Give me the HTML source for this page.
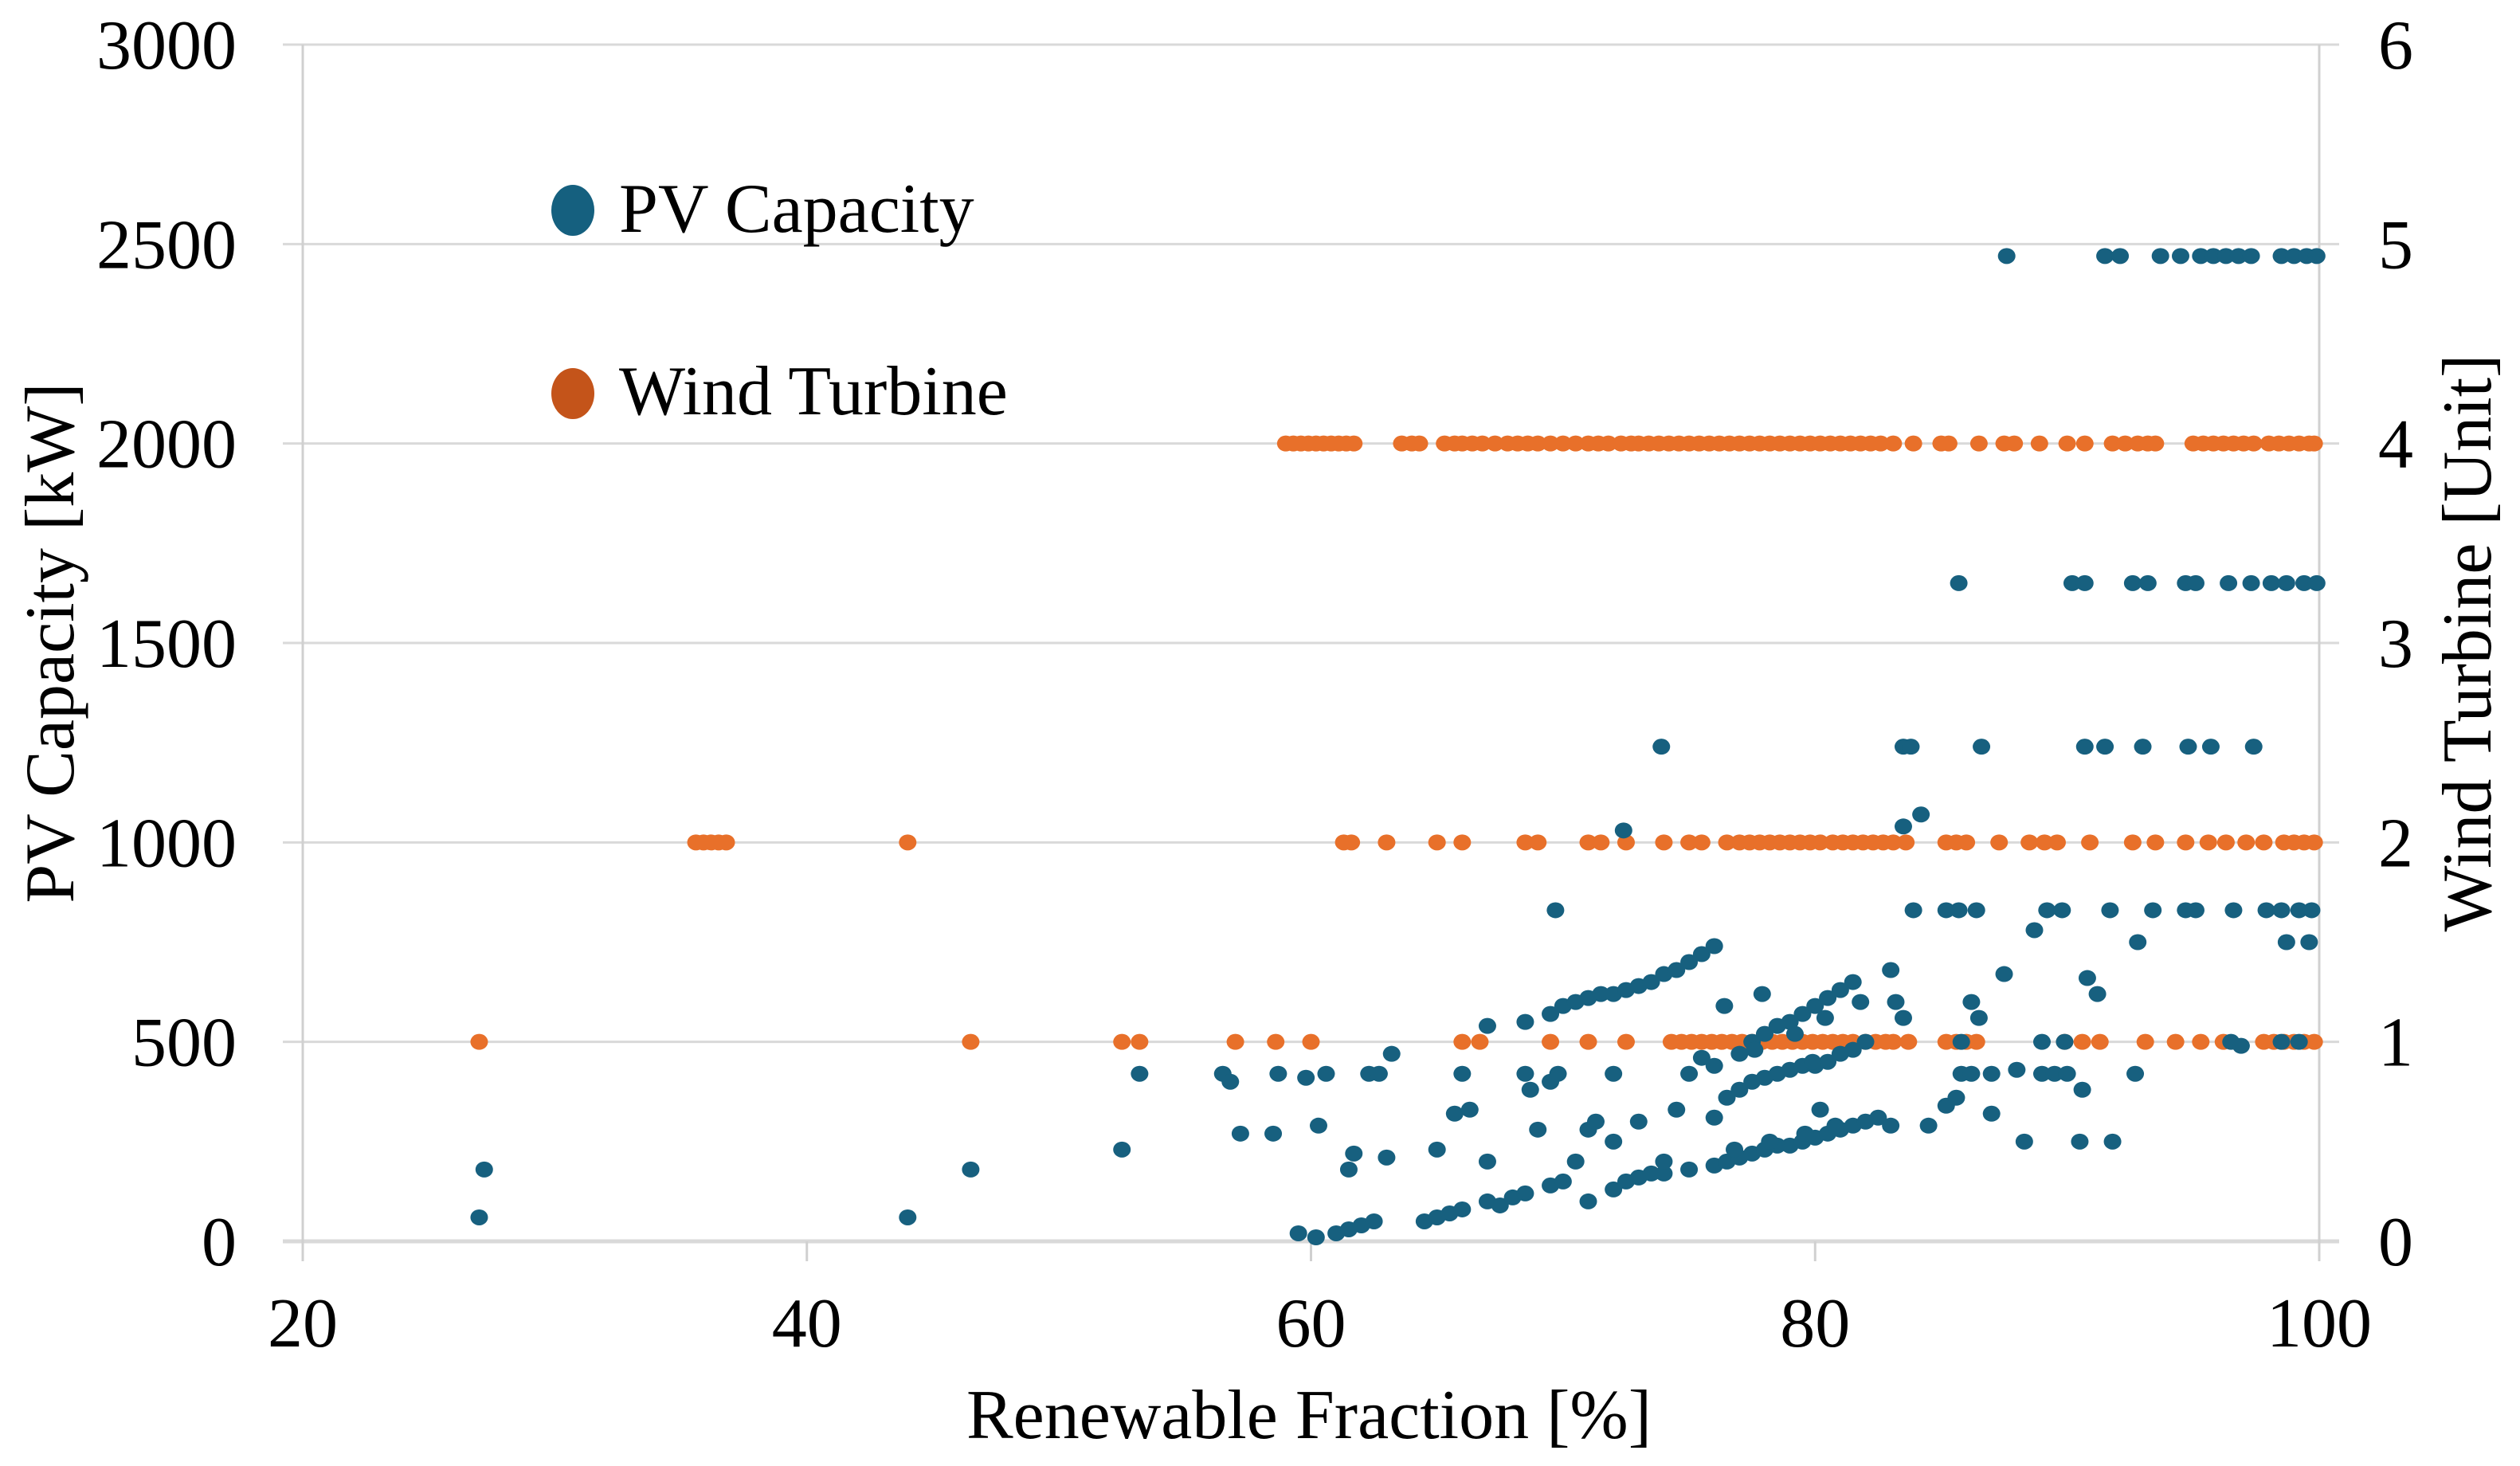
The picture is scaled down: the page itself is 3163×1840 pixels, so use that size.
<!DOCTYPE html>
<html><head><meta charset="utf-8"><style>
html,body{margin:0;padding:0;background:#fff;}
svg{display:block;}
text{font-family:"Liberation Serif",serif;fill:#000;}
</style></head><body>
<svg id="chart" width="3163" height="1840" viewBox="0 0 3163 1840" xmlns="http://www.w3.org/2000/svg">
<g id="grid"></g>
<g id="axes"></g>
<g id="wind"></g>
<g id="pv"></g>
<g>
  <ellipse cx="719" cy="264" rx="27" ry="32" fill="#15607f"/>
  <text x="777" y="291" font-size="88">PV Capacity</text>
  <ellipse cx="719" cy="494" rx="27" ry="32" fill="#c4541a"/>
  <text x="777" y="520" font-size="88">Wind Turbine</text>
</g>
<text x="1643" y="1805" font-size="88" text-anchor="middle">Renewable Fraction [%]</text>
<text x="0" y="0" font-size="88" text-anchor="middle" transform="translate(92,807) rotate(-90)">PV Capacity [kW]</text>
<text x="0" y="0" font-size="88" text-anchor="middle" transform="translate(3126,807) rotate(-90)">Wind Turbine [Unit]</text>
</svg>
<script>
const xTicks = [20, 40, 60, 80, 100];
const yLeftTicks = [0, 500, 1000, 1500, 2000, 2500, 3000];
const yRightTicks = [0, 1, 2, 3, 4, 5, 6];

const pvX = [87.6,91.5,92.1,93.7,94.5,95.3,95.8,96.3,96.8,97.3,98.5,99,99.5,99.9,
 85.7,90.2,90.7,92.6,93.2,94.7,95.1,96.4,97.3,98.1,98.7,99.4,99.9,
 73.9,83.5,83.8,86.6,90.7,91.5,93,94.8,95.7,97.4,
 69.7,83.9,85.2,85.7,86.4,89.2,89.8,91.7,93.4,94.7,95.1,96.6,97.9,98.5,99.2,99.7,
 92.8,98.7,99.6,
 67,68.5,69.5,70,70.5,71,71.5,72,72.5,73,73.5,74,74.5,75,75.5,76,
 76,77,77.5,78,78.5,79,79.5,80,80.5,81,81.5,
 77,77.5,78,78.5,79,79.5,80,80.5,81,81.5,82,
 74,75,76,76.5,77,77.5,78,78.5,79,79.5,80,80.5,81,81.5,82,82.5,83,
 59.5,60.2,61,61.5,62,62.5,64.5,65,65.5,66,67,67.5,68,68.5,69.5,70,71,72,72.5,73,73.5,
 27,27.2,44,46.5,52.5,53.2,56.5,56.8,57.2,58.5,58.7,59.8,60.3,60.6,61.5,61.7,62.3,62.7,63,63.2,65,65.7,66,66.3,67,68.5,68.7,69,69.5,69.8,70.5,71,71.3,72,72,73,74,74.5,75,75.5,76,76.5,72.4,
 84.2,83.5,83,83.2,83.5,84.5,85.2,85.6,85.8,86.2,86.5,86.2,87,87,88,88.3,89,89.5,90,90.6,90.8,91.2,90.5,91.8,92.7,87.5,96.5,98.5,99.2,88.7,85.8,89.9,89,96.9,
 76.8,78.2,79.6,80.8,77.6,79.2,80.4,81.8,76.4,77.9,79.9,80.2];
const pvKW = [2470,2470,2470,2470,2470,2470,2470,2470,2470,2470,2470,2470,2470,2470,
 1650,1650,1650,1650,1650,1650,1650,1650,1650,1650,1650,1650,1650,
 1240,1240,1240,1240,1240,1240,1240,1240,1240,1240,
 830,830,830,830,830,830,830,830,830,830,830,830,830,830,830,830,
 750,750,750,
 540,550,570,590,600,610,620,620,630,640,650,670,680,700,720,740,
 440,470,500,520,540,550,570,590,610,630,650,
 380,400,410,420,430,440,440,450,470,480,500,
 170,180,190,200,210,220,230,240,240,250,260,270,280,290,300,310,290,
 20,10,20,30,40,50,50,60,70,80,100,90,110,120,140,150,100,130,150,160,170,
 60,180,60,180,230,420,420,400,270,270,420,410,290,420,180,220,420,420,210,470,230,320,420,330,200,420,380,280,400,420,200,280,300,420,250,300,200,330,420,460,310,360,1030,
 1070,1040,680,600,560,290,340,360,420,420,560,600,420,320,430,250,420,420,420,380,660,620,250,250,420,670,500,500,500,780,500,500,500,490,
 230,250,270,290,480,520,560,600,590,620,450,330];

const wind4X = [59,59.3,59.6,59.9,60.2,60.5,60.8,61.1,61.4,61.7,63.6,64,64.3,65.3,65.7,66,66.4,66.8,67.3,67.8,68.2,68.6,69,69.5,70,70.5,71,71.4,71.8,72.3,72.7,73,73.4,73.8,74.2,74.6,75,75.4,75.8,76.2,76.6,77,77.4,77.8,78.2,78.6,79,79.4,79.8,80.2,80.6,81,81.4,81.8,82.2,82.6,83.1,
 83.9,85,85.3,86.5,87.5,87.9,88.9,90,90.7,91.8,92.3,92.8,93.2,93.5,95,95.4,95.8,96.2,96.6,97,97.4,98,98.4,98.8,99.2,99.6,99.8];
const wind2X = [35.6,35.9,36.2,36.5,36.8,44,61.3,61.6,63,65,66,68.5,69,71,71.5,72.5,74,75,75.5,76.5,77,77.4,77.8,78.2,78.6,79,79.4,79.8,80.2,80.7,81.1,81.5,81.9,82.3,82.7,83.1,83.6,
 85.2,85.6,86,87.3,88.5,89.1,89.6,90.9,92.6,93.5,94.7,95.6,96.3,97.1,97.8,98.6,99,99.4,99.8];
const wind1X = [27,46.5,52.5,53.2,57,58.6,60,66,66.7,69.5,71,72.5,74.3,74.7,75.1,75.5,75.9,76.3,76.7,77.1,77.5,77.9,78.3,78.7,79.1,79.5,79.9,80.3,80.7,81.1,81.5,
 82,82.4,82.8,83.1,83.7,85.2,85.6,86,86.4,89.9,90.6,91.3,93.1,94.3,95.3,96.2,97.8,98.2,98.6,99,99.4,99.8];

const X0 = 380, X1 = 2911, Y0 = 1558, Y1 = 56;
function sx(v){ return X0 + (v - 20) / 80 * (X1 - X0); }
function syL(v){ return Y0 - v / 3000 * (Y0 - Y1); }
function syR(v){ return Y0 - v / 6 * (Y0 - Y1); }
const NS = "http://www.w3.org/2000/svg";
function mk(tag, parent){ const e = document.createElementNS(NS, tag); parent.appendChild(e); return e; }

const grid = document.getElementById('grid');
const axes = document.getElementById('axes');
yLeftTicks.forEach(function(t){
  const l = mk('line', grid);
  
  
  l.setAttribute('x1', X0 - 25); l.setAttribute('x2', X1 + 25);
  l.setAttribute('y1', syL(t)); l.setAttribute('y2', syL(t));
  l.setAttribute('stroke', '#d9d9d9'); l.setAttribute('stroke-width', t === 0 ? 5 : 3);
  const tx = mk('text', axes);
  
  
  tx.setAttribute('x', 297); tx.setAttribute('y', syL(t) + 30);
  tx.setAttribute('font-size', 88); tx.setAttribute('text-anchor', 'end');
  tx.textContent = t;
});
yRightTicks.forEach(function(t){
  const tx = mk('text', axes);
  
  
  tx.setAttribute('x', 2985); tx.setAttribute('y', syR(t) + 30);
  tx.setAttribute('font-size', 88);
  tx.textContent = t;
});
[X0, X1].forEach(function(x, i){
  const l = mk('line', axes);
  
  
  l.setAttribute('x1', x); l.setAttribute('x2', x);
  l.setAttribute('y1', Y1); l.setAttribute('y2', Y0 + 25);
  l.setAttribute('stroke', '#d0d0d0'); l.setAttribute('stroke-width', 3);
});
xTicks.forEach(function(t){
  const l = mk('line', axes);
  
  
  l.setAttribute('x1', sx(t)); l.setAttribute('x2', sx(t));
  l.setAttribute('y1', Y0); l.setAttribute('y2', Y0 + 25);
  l.setAttribute('stroke', '#d0d0d0'); l.setAttribute('stroke-width', 3);
  const tx = mk('text', axes);
  
  
  tx.setAttribute('x', sx(t)); tx.setAttribute('y', 1690);
  tx.setAttribute('font-size', 88); tx.setAttribute('text-anchor', 'middle');
  tx.textContent = t;
});

const windG = document.getElementById('wind');
function windRow(xs, units){
  xs.forEach(function(x){
    const c = mk('ellipse', windG);
    
    
    c.setAttribute('cx', sx(x)); c.setAttribute('cy', syR(units));
    c.setAttribute('rx', 11); c.setAttribute('ry', 10);
    c.setAttribute('fill', '#e8702a');
  });
}
windRow(wind4X, 4); windRow(wind2X, 2); windRow(wind1X, 1);

const pvG = document.getElementById('pv');
pvX.forEach(function(x, i){
  const c = mk('ellipse', pvG);
  
  
  c.setAttribute('cx', sx(x)); c.setAttribute('cy', syL(pvKW[i]));
  c.setAttribute('rx', 11); c.setAttribute('ry', 10);
  c.setAttribute('fill', '#17607f');
});
</script>
</body></html>
